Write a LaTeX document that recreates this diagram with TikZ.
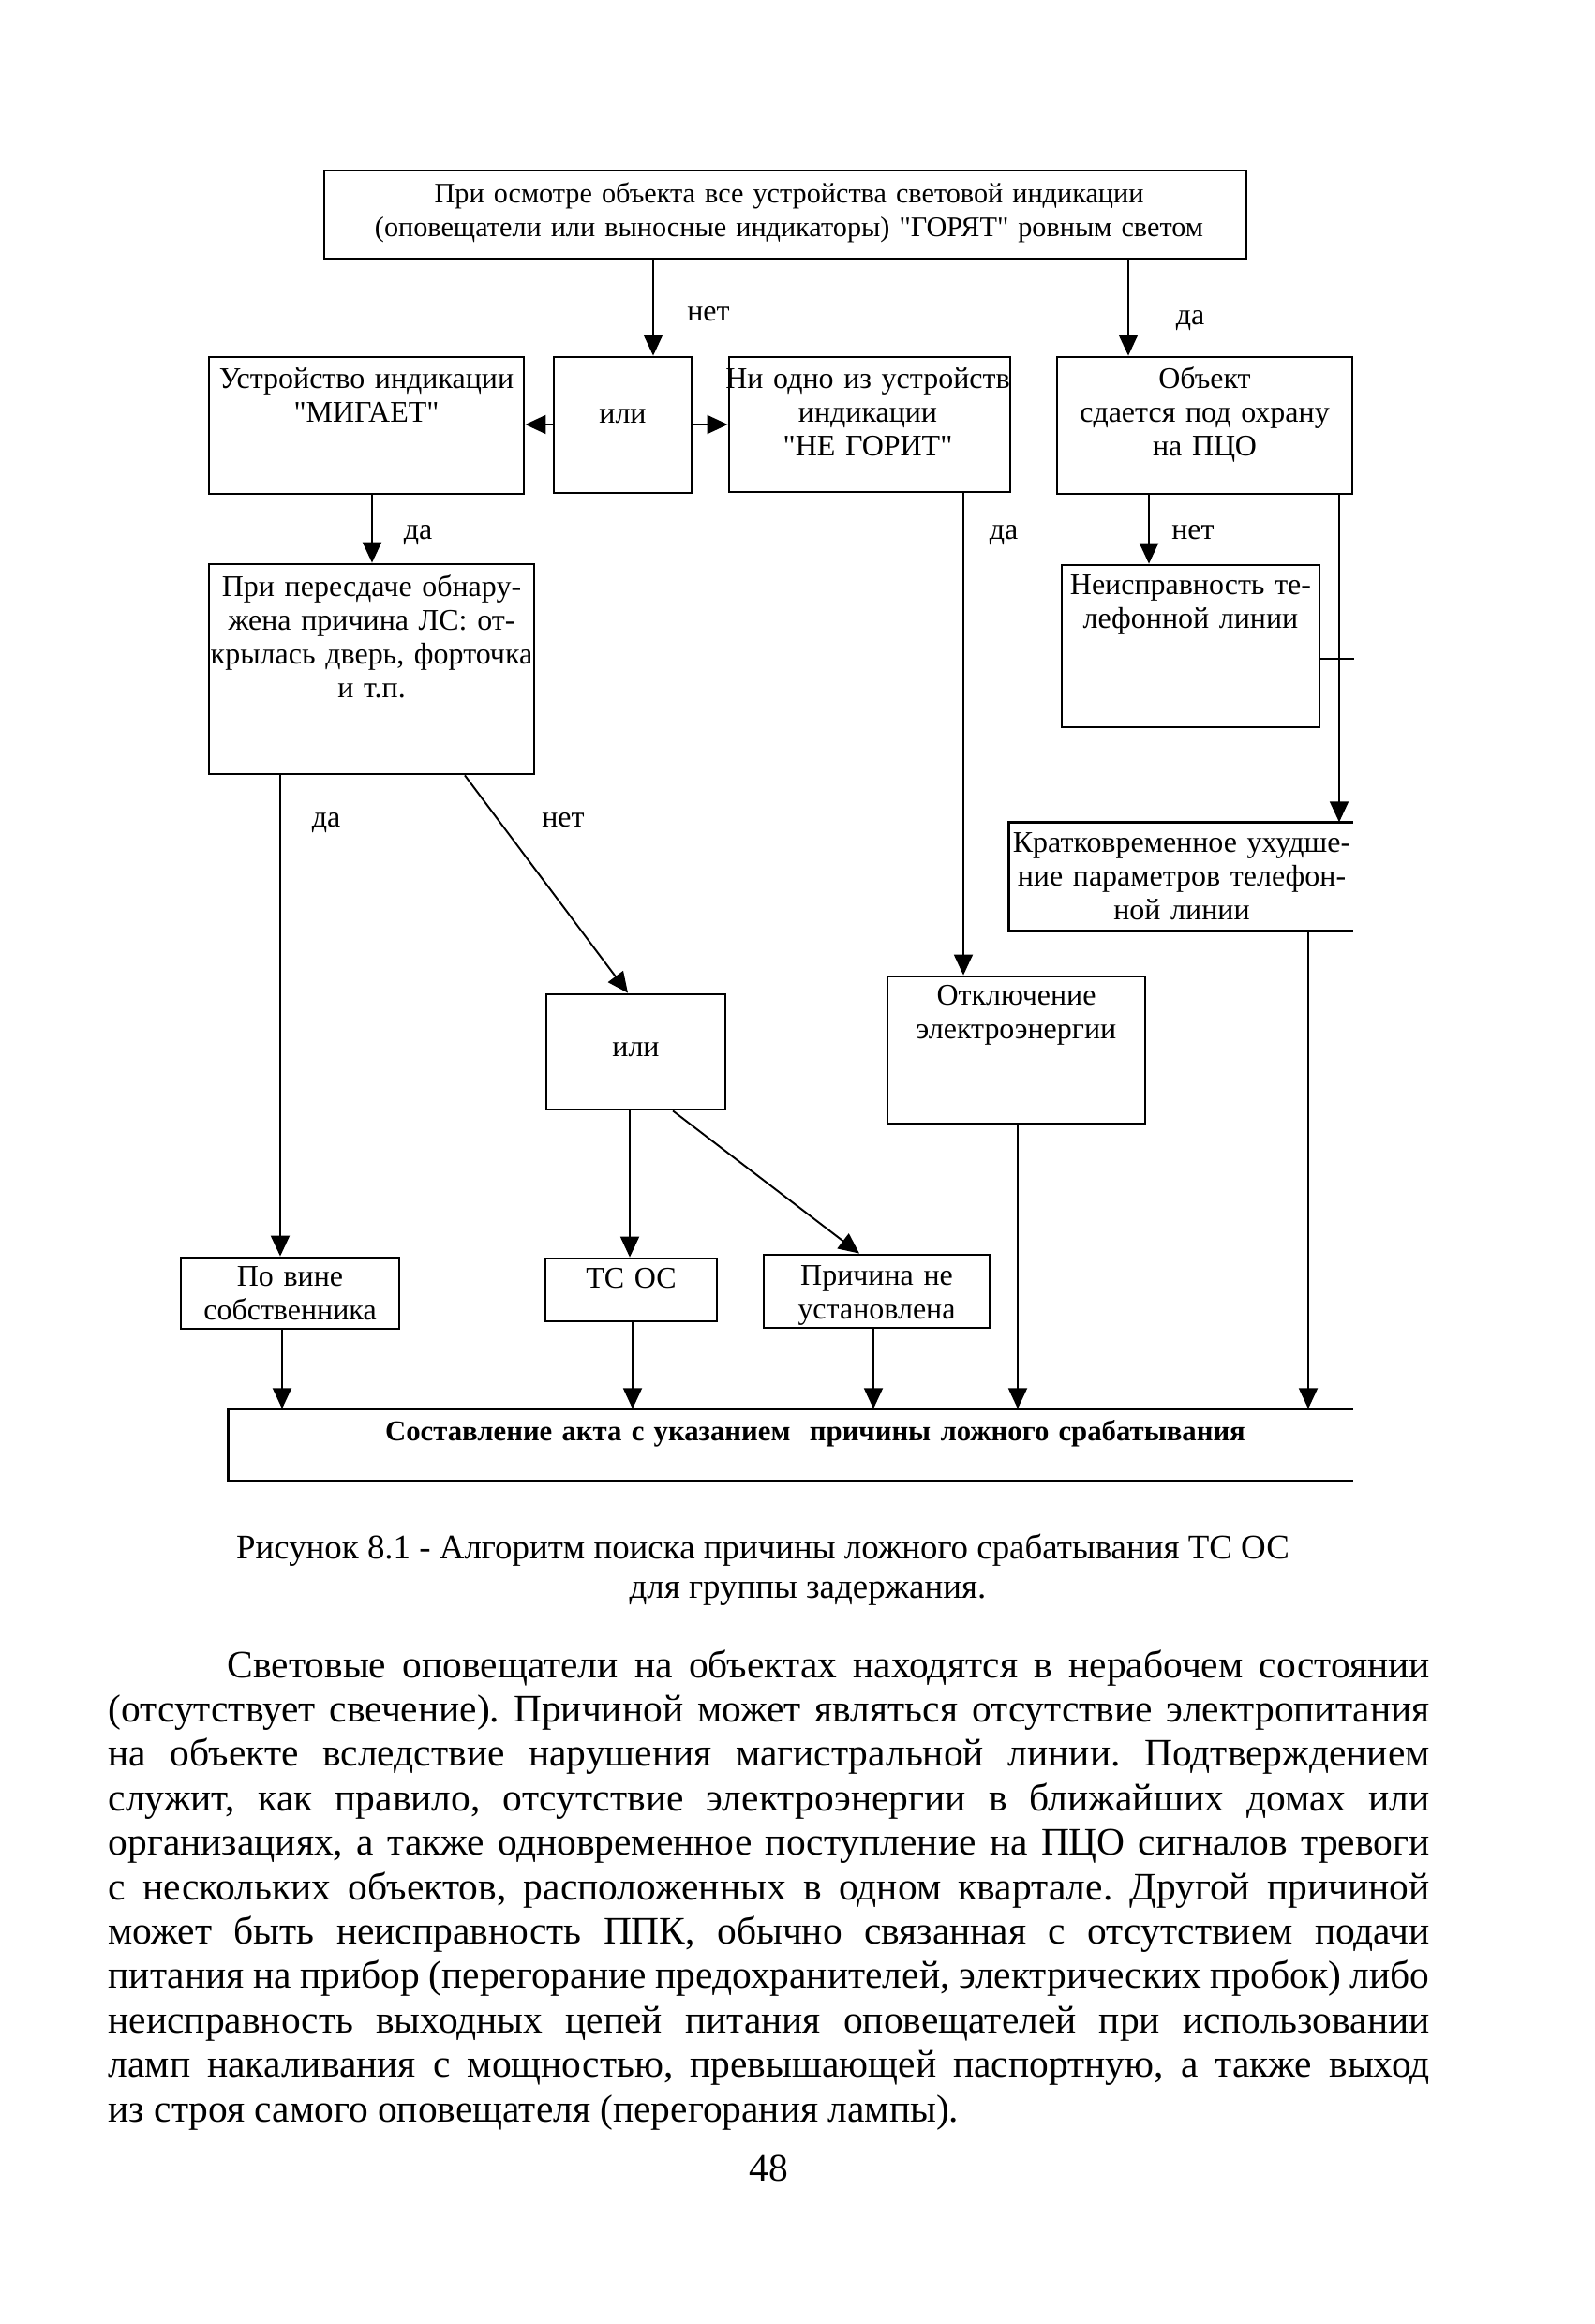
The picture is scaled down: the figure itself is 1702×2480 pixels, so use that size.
\documentclass[tikz,border=0pt]{standalone}
\usepackage{fontspec}
\setmainfont{Liberation Serif}[Ligatures=TeXOff]
\usetikzlibrary{arrows.meta}
\newcommand\dgfont{\fontsize{9.1}{10.3}\selectfont}
\newcommand\topfont{\fontsize{8.6}{10.3}\selectfont}
\newcommand\capfont{\fontsize{10.5}{12}\selectfont}
\newcommand\bodyfont{\fontsize{11.8}{13.5}\selectfont}
\frenchspacing
\begin{document}
\begin{tikzpicture}[x=0.1mm,y=-0.1mm,
  box/.style={draw, line width=0.8pt, inner sep=0pt},
  openbox/.style={inner sep=0pt},
  conn/.style={line width=0.55pt, -{Triangle[length=2.2mm,width=2mm]}},
  plain/.style={line width=0.55pt},
  side/.style={line width=0.8pt},
  txt/.style={inner sep=0pt, align=center, font=\dgfont, anchor=base},
  lab/.style={inner sep=0pt, font=\dgfont, anchor=base},
  bodyline/.style={inner sep=0pt, font=\bodyfont, anchor=base west},
  captxt/.style={inner sep=0pt, font=\capfont, anchor=base}]
\useasboundingbox (0,0) rectangle (1702,2480);

% ---------- boxes ----------
\node[box, minimum width=98.4mm, minimum height=9.4mm] (top) at (838,229) {};
\node[box, minimum width=33.6mm, minimum height=14.6mm] (mig) at (391,454) {};
\node[box, minimum width=14.7mm, minimum height=14.5mm] (ili1) at (664.5,453.5) {};
\node[box, minimum width=30.0mm, minimum height=14.4mm] (negor) at (928,453) {};
\node[box, minimum width=31.5mm, minimum height=14.6mm] (obj) at (1285.5,454) {};
\node[box, minimum width=34.7mm, minimum height=22.4mm] (ls) at (396.5,714) {};
\node[box, minimum width=27.5mm, minimum height=17.3mm] (neisp) at (1270.5,689.5) {};
\node[openbox, minimum width=36.6mm, minimum height=11.5mm] (krat) at (1260,935.5) {};
\draw[side] (krat.north east) -- (krat.north west) -- (krat.south west) -- (krat.south east);
\node[box, minimum width=19.1mm, minimum height=12.3mm] (ili2) at (678.5,1122.5) {};
\node[box, minimum width=27.5mm, minimum height=15.7mm] (otkl) at (1084.5,1120.5) {};
\node[box, minimum width=23.3mm, minimum height=7.6mm] (povine) at (309.5,1380) {};
\node[box, minimum width=18.3mm, minimum height=6.7mm] (tsos) at (673.5,1376.5) {};
\node[box, minimum width=24.1mm, minimum height=7.8mm] (prich) at (935.5,1378) {};
\node[openbox, minimum width=119.9mm, minimum height=7.6mm] (bot) at (843.5,1542) {};
\draw[side] (bot.north east) -- (bot.north west) -- (bot.south west) -- (bot.south east);

% ---------- box texts ----------
\node[txt, text width=105mm, font=\topfont] (tTop) at (842,216) {При осмотре объекта все устройства световой индикации\\(оповещатели или выносные индикаторы) "ГОРЯТ" ровным светом};
\node[txt, text width=40mm] (tMig) at (391,414) {Устройство индикации\\"МИГАЕТ"};
\node[txt, text width=14mm] (tIli1) at (664.5,451) {или};
\node[txt, text width=36mm] (tNegor) at (926,414) {Ни одно из устройств\\индикации\\"НЕ ГОРИТ"};
\node[txt, text width=36mm] (tObj) at (1285.5,414) {Объект\\сдается под охрану\\на ПЦО};
\node[txt, text width=40mm] (tLs) at (396.5,636) {При пересдаче обнару-\\жена причина ЛС: от-\\крылась дверь, форточка\\и т.п.};
\node[txt, text width=34mm] (tNeisp) at (1270.5,634) {Неисправность те-\\лефонной линии};
\node[txt, text width=42mm] (tKrat) at (1261,909) {Кратковременное ухудше-\\ние параметров телефон-\\ной линии};
\node[txt, text width=18mm] (tIli2) at (678.5,1127) {или};
\node[txt, text width=30mm] (tOtkl) at (1084.5,1072) {Отключение\\электроэнергии};
\node[txt, text width=28mm] (tPovine) at (309.5,1372) {По вине\\собственника};
\node[txt, text width=18mm] (tTsos) at (673.5,1374) {ТС ОС};
\node[txt, text width=28mm] (tPrich) at (935.5,1371) {Причина не\\установлена};
\node[txt, text width=110mm, font=\fontsize{8.75}{10}\selectfont\bfseries] (tBot) at (870,1537) {Составление акта с указанием~ причины ложного срабатывания};

% ---------- labels ----------
\node[lab] (lNet1) at (756,342) {нет};
\node[lab] (lDa1) at (1270,346) {да};
\node[lab] (lDa2) at (446,575) {да};
\node[lab] (lDa3) at (1071,575) {да};
\node[lab] (lNet2) at (1273,575) {нет};
\node[lab] (lDa4) at (348,882) {да};
\node[lab] (lNet3) at (601,882) {нет};

% ---------- connector guide coordinates ----------
\coordinate (xa) at (697,0);
\coordinate (xb) at (1204,0);
\coordinate (ya) at (0,453);
\coordinate (xc) at (397,0);
\coordinate (xd) at (1028,0);
\coordinate (xe) at (1226,0);
\coordinate (xf) at (1429,0);
\coordinate (tk) at (1445,703);
\coordinate (xg) at (299,0);
\coordinate (xh) at (496,0);
\coordinate (xi) at (670,0);
\coordinate (xj) at (672,0);
\coordinate (xk) at (718,0);
\coordinate (xl) at (917,0);
\coordinate (xm) at (301,0);
\coordinate (xn) at (675,0);
\coordinate (xo) at (932,0);
\coordinate (xp) at (1086,0);
\coordinate (xq) at (1396,0);

% ---------- connectors ----------
\draw[conn] (top.south -| xa) -- (ili1.north -| xa);
\draw[conn] (top.south -| xb) -- (obj.north -| xb);
\draw[conn] (ili1.west |- ya) -- (mig.east |- ya);
\draw[conn] (ili1.east |- ya) -- (negor.west |- ya);
\draw[conn] (mig.south -| xc) -- (ls.north -| xc);
\draw[conn] (negor.south -| xd) -- (otkl.north -| xd);
\draw[conn] (obj.south -| xe) -- (neisp.north -| xe);
\draw[conn] (obj.south -| xf) -- (krat.north -| xf);
\draw[plain] (neisp.east |- tk) -- (tk);
\draw[conn] (ls.south -| xg) -- (povine.north -| xg);
\draw[conn] (ls.south -| xh) -- (ili2.north -| xi);
\draw[conn] (ili2.south -| xj) -- (tsos.north -| xj);
\draw[conn] (ili2.south -| xk) -- (prich.north -| xl);
\draw[conn] (povine.south -| xm) -- (bot.north -| xm);
\draw[conn] (tsos.south -| xn) -- (bot.north -| xn);
\draw[conn] (prich.south -| xo) -- (bot.north -| xo);
\draw[conn] (otkl.south -| xp) -- (bot.north -| xp);
\draw[conn] (krat.south -| xq) -- (bot.north -| xq);

% ---------- caption ----------
\node[captxt] (cap1) at (814,1663) {Рисунок 8.1 - Алгоритм поиска причины ложного срабатывания ТС ОС};
\node[captxt] (cap2) at (862,1705) {для группы задержания.};

% ---------- body text ----------
\node[bodyline] (b1) at (242,1790) {\makebox[128.3mm][s]{Световые оповещатели на объектах находятся в нерабочем состоянии}};
\node[bodyline] (b2) at (115,1837.4) {\makebox[141mm][s]{(отсутствует свечение). Причиной может являться отсутствие электропитания}};
\node[bodyline] (b3) at (115,1884.8) {\makebox[141mm][s]{на объекте вследствие нарушения магистральной линии. Подтверждением}};
\node[bodyline] (b4) at (115,1932.2) {\makebox[141mm][s]{служит, как правило, отсутствие электроэнергии в ближайших домах или}};
\node[bodyline] (b5) at (115,1979.6) {\makebox[141mm][s]{организациях, а также одновременное поступление на ПЦО сигналов тревоги}};
\node[bodyline] (b6) at (115,2027) {\makebox[141mm][s]{с нескольких объектов, расположенных в одном квартале. Другой причиной}};
\node[bodyline] (b7) at (115,2074.4) {\makebox[141mm][s]{может быть неисправность ППК, обычно связанная с отсутствием подачи}};
\node[bodyline] (b8) at (115,2121.8) {\makebox[141mm][s]{питания на прибор (перегорание предохранителей, электрических пробок) либо}};
\node[bodyline] (b9) at (115,2169.2) {\makebox[141mm][s]{неисправность выходных цепей питания оповещателей при использовании}};
\node[bodyline] (b10) at (115,2216.6) {\makebox[141mm][s]{ламп накаливания с мощностью, превышающей паспортную, а также выход}};
\node[bodyline] (b11) at (115,2264) {из строя самого оповещателя (перегорания лампы).};
\node[captxt, font=\bodyfont] (pg) at (820,2327) {48};
\end{tikzpicture}
\end{document}
